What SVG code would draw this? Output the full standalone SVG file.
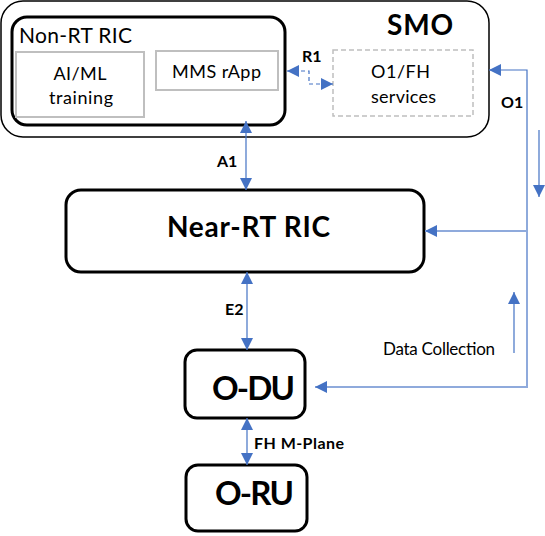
<svg xmlns="http://www.w3.org/2000/svg" width="545" height="536" viewBox="0 0 545 536">
<style>
.blk{fill:#fff;stroke:#000;stroke-width:3}
.gry{fill:#fff;stroke:#bfbfbf;stroke-width:2}
.t{font-family:Lato,"Open Sans",sans-serif;fill:#000}
.b{font-weight:bold}
.lb{font-family:Lato,"Open Sans",sans-serif;font-weight:bold;font-size:16px;fill:#000}
.ln{fill:none;stroke:#4472c4;stroke-width:1.2}
.lt{fill:none;stroke:#8faadc;stroke-width:2}
</style>
<defs>
<marker id="ah" markerUnits="userSpaceOnUse" markerWidth="12" markerHeight="12" viewBox="0 0 12 12" refX="12" refY="6" orient="auto-start-reverse">
<path d="M0,0 L12,6 L0,12 Z" fill="#4472c4"/>
</marker>
</defs>
<g id="smo">
<rect x="1" y="1" width="488" height="136" rx="22" fill="#fff" stroke="#000" stroke-width="1.5"/>
<text class="t b" x="387" y="35" font-size="28" textLength="66">SMO</text>
</g>
<g id="nonrt">
<rect class="blk" x="12" y="17" width="273" height="108" rx="15"/>
<text class="t" x="19" y="43" font-size="21" textLength="113">Non-RT RIC</text>
</g>
<g id="aiml">
<rect class="gry" x="16" y="52" width="128" height="65"/>
<text class="t" x="80" y="80" font-size="18" text-anchor="middle" textLength="53">AI/ML</text>
<text class="t" x="81" y="104" font-size="18" text-anchor="middle" textLength="64">training</text>
</g>
<g id="mms">
<rect class="gry" x="156" y="51" width="122" height="39"/>
<text class="t" x="216.5" y="78" font-size="18" text-anchor="middle" textLength="89">MMS rApp</text>
</g>
<g id="o1fh">
<rect x="333" y="50" width="140" height="66" fill="#fff" stroke="#bfbfbf" stroke-width="1.5" stroke-dasharray="5,3"/>
<text class="t" x="400.5" y="78" font-size="18" text-anchor="middle" textLength="59">O1/FH</text>
<text class="t" x="403.5" y="103" font-size="18" text-anchor="middle" textLength="65">services</text>
</g>
<g id="nearrt">
<rect class="blk" x="66" y="190" width="358" height="82" rx="15"/>
<text class="t b" x="248.5" y="237" font-size="28" text-anchor="middle" textLength="163">Near-RT RIC</text>
</g>
<g id="odu">
<rect class="blk" x="185" y="350" width="120" height="68" rx="12"/>
<text class="t b" x="253.5" y="400" font-size="33" text-anchor="middle" textLength="83">O-DU</text>
</g>
<g id="oru">
<rect class="blk" x="186" y="465" width="121" height="66" rx="12"/>
<text class="t b" x="254.5" y="505" font-size="33" text-anchor="middle" textLength="79">O-RU</text>
</g>
<g id="connectors">
<path class="ln" d="M246,121 V190" marker-start="url(#ah)" marker-end="url(#ah)"/>
<path class="ln" d="M247,272 V350" marker-start="url(#ah)" marker-end="url(#ah)"/>
<path class="ln" d="M247,418 V465" stroke-width="2" marker-start="url(#ah)" marker-end="url(#ah)"/>
<path class="ln" d="M287,71 H309 V84 H333" stroke-dasharray="4,3" marker-start="url(#ah)" marker-end="url(#ah)"/>
<path class="ln" d="M527,231 V70 H489" marker-end="url(#ah)"/>
<path class="lt" d="M527,231 H425" marker-end="url(#ah)"/>
<path class="lt" d="M527,231 V387 H315" marker-end="url(#ah)"/>
<path class="ln" d="M539,130 V197" marker-end="url(#ah)"/>
<path class="ln" d="M514,353 V292" marker-end="url(#ah)"/>
<text class="lb" x="302" y="62">R1</text>
<text class="lb" x="501" y="108">O1</text>
<text class="lb" x="217" y="167">A1</text>
<text class="lb" x="225" y="315">E2</text>
<text class="lb" x="254" y="449" textLength="90">FH M-Plane</text>
<text class="t" x="383" y="355" font-size="17" textLength="112">Data Collection</text>
</g>
</svg>
